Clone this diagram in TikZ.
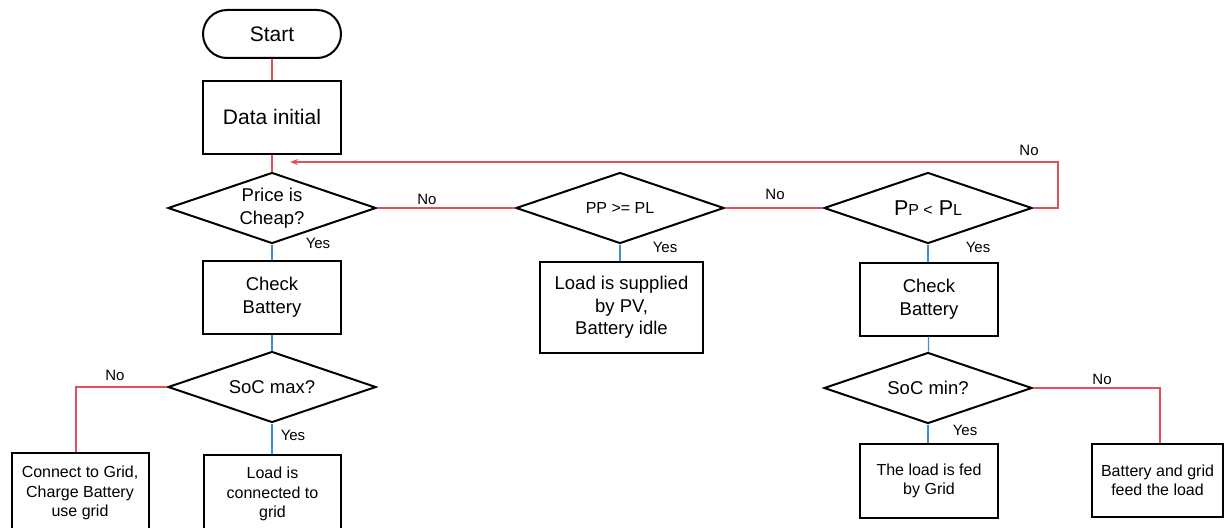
\documentclass[tikz,border=0pt]{standalone}
\usepackage{fontspec}
\setmainfont{Liberation Sans}
\usetikzlibrary{shapes.geometric,arrows.meta}
\definecolor{lred}{RGB}{232,78,88}
\definecolor{lblue}{RGB}{62,142,212}
\begin{document}
\begin{tikzpicture}[x=1pt,y=-1pt,
 box/.style={draw=black,line width=2pt,align=center,inner sep=2pt},
 dec/.style={diamond,draw=black,line width=2pt,align=center,minimum width=208pt,minimum height=71pt,inner sep=0pt,aspect=2.9},
 rl/.style={draw=lred,line width=1.3pt},
 bl/.style={draw=lblue,line width=1.3pt},
 big/.style={font=\fontsize{21}{24}\selectfont},
 mid/.style={font=\fontsize{18.5}{22.5}\selectfont},
 sml/.style={font=\fontsize{16}{19.5}\selectfont},
 lab/.style={font=\fontsize{15}{17}\selectfont,inner sep=1pt}]
\useasboundingbox (0,0) rectangle (1225,527);
\node[box,big,rounded corners=24pt,minimum width=138pt,minimum height=48pt] (start) at (272,34) {Start};
\node[box,big,minimum width=138pt,minimum height=73pt] (data) at (272,117) {Data initial};
\node[dec,mid] (price) at (272,208) {Price is\\Cheap?};
\node[dec,font=\fontsize{16}{18}\selectfont] (pp1) at (620,208) {PP >= PL};
\node[dec,font=\fontsize{21.5}{24}\selectfont] (pp2) at (928,208) {P{\fontsize{16}{18}\selectfont P <} P{\fontsize{16}{18}\selectfont L}};
\node[box,mid,minimum width=138pt,minimum height=73pt] (cb1) at (272,297) {Check\\Battery};
\node[box,mid,minimum width=163pt,minimum height=91pt] (load) at (621.5,307.5) {Load is supplied\\by PV,\\Battery idle};
\node[box,mid,minimum width=138pt,minimum height=73pt] (cb2) at (929,299) {Check\\Battery};
\node[dec,mid] (socmax) at (272,387) {SoC max?};
\node[dec,mid] (socmin) at (928,388) {SoC min?};
\node[box,sml,minimum width=137pt,minimum height=80pt] (grid) at (80,493) {Connect to Grid,\\Charge Battery\\use grid};
\node[box,sml,minimum width=137pt,minimum height=78pt] (conn) at (272.5,494) {Load is\\connected to\\grid};
\node[box,sml,minimum width=138pt,minimum height=74pt] (fed) at (929,481) {The load is fed\\by Grid};
\node[box,sml,minimum width=131pt,minimum height=73pt] (bat) at (1157.5,480.5) {Battery and grid\\feed the load};
\coordinate (back) at (290,162);
\draw[rl] (start) -- (data);
\draw[rl] (data) -- (price);
\draw[rl] (price) -- (pp1);
\draw[rl] (pp1) -- (pp2);
\draw[rl,-{Stealth[length=8pt,width=6pt]}] (pp2.east) -- ++(25,0) |- (back);
\draw[bl] (price) -- (cb1);
\draw[bl] (cb1) -- (socmax);
\draw[rl] (socmax.west) -| ([xshift=-4pt]grid.north);
\draw[bl] (socmax) -- (socmax.south |- conn.north);
\draw[bl] (pp1) -- (pp1.south |- load.north);
\draw[bl] (pp2.south) -- (pp2.south |- cb2.north);
\draw[bl] (cb2) -- (socmin);
\draw[bl] (socmin) -- (socmin.south |- fed.north);
\draw[rl] (socmin.east) -| ([xshift=2.5pt]bat.north);
\node[lab] (n1) at (427,199) {No};
\node[lab] (n2) at (775,194) {No};
\node[lab] (n3) at (1029,150) {No};
\node[lab] (n4) at (115,375) {No};
\node[lab] (n5) at (1102,379) {No};
\node[lab] (y1) at (318,243) {Yes};
\node[lab] (y2) at (665,247) {Yes};
\node[lab] (y3) at (978,247) {Yes};
\node[lab] (y4) at (293,435) {Yes};
\node[lab] (y5) at (965,430) {Yes};
\end{tikzpicture}
\end{document}
